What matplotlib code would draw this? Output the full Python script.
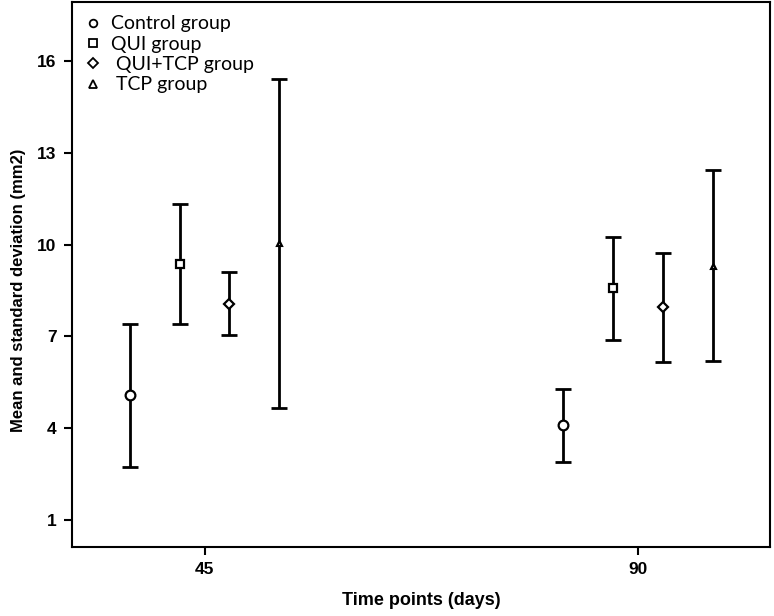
import matplotlib.pyplot as plt
import numpy as np

time_points = ['45', '90']
groups = ['Control group', 'QUI group', 'QUI+TCP group', 'TCP group']
legend_labels = ['Control group', 'QUI group', ' QUI+TCP group', ' TCP group']
markers = ['o', 's', 'D', '^']
marker_sizes = [7, 5.5, 5.5, 3.5]

# mean and standard deviation per group, for 45 and 90 days
means = {
    'Control group': [5.08, 4.09],
    'QUI group': [9.37, 8.57],
    'QUI+TCP group': [8.07, 7.95],
    'TCP group': [10.04, 9.30],
}
sds = {
    'Control group': [2.34, 1.20],
    'QUI group': [1.96, 1.69],
    'QUI+TCP group': [1.03, 1.78],
    'TCP group': [5.37, 3.12],
}

fig = plt.figure(figsize=(7.74, 6.16), dpi=100)
ax = fig.add_axes([0.093, 0.112, 0.902, 0.885])

x = np.arange(len(time_points))
offsets = [-0.173, -0.0576, 0.0576, 0.173]
handles = []
for g, off, m, ms, lab in zip(groups, offsets, markers, marker_sizes, legend_labels):
    ax.errorbar(x + off, means[g], yerr=sds[g], fmt='none', ecolor='black',
                elinewidth=2, capsize=6, capthick=2, zorder=2)
    ax.plot(x + off, means[g], linestyle='none', marker=m, markersize=ms,
            markerfacecolor='white', markeredgecolor='black', markeredgewidth=1.6, zorder=3)
    h, = ax.plot([], [], linestyle='none', marker=m, markersize=5.5 if m != '^' else 6,
                 markerfacecolor='white', markeredgecolor='black', markeredgewidth=1.3, label=lab)
    handles.append(h)

ax.set_xlim(-0.306, 1.306)
ax.set_ylim(0.118, 17.93)
ax.set_xticks(x)
ax.set_xticklabels(time_points)
ax.set_yticks([1, 4, 7, 10, 13, 16])

narrow = ['Liberation Sans', 'DejaVu Sans']
for lbl in ax.get_xticklabels() + ax.get_yticklabels():
    lbl.set_family(narrow)
    lbl.set_fontweight('bold')
    lbl.set_fontsize(12.5)
ax.tick_params(direction='out', length=6, width=1.5, pad=5)

ax.set_xlabel('Time points (days)', fontsize=13, fontweight='bold', family=narrow)
ax.set_ylabel('Mean and standard deviation (mm2)', fontsize=12, fontweight='bold', family=narrow)
ax.xaxis.set_label_coords(0.5, -0.083)
ax.yaxis.set_label_coords(-0.066, 0.47)

for s in ax.spines.values():
    s.set_linewidth(1.5)

ax.legend(handles=handles, loc='upper left', frameon=False,
          prop={'family': ['Lato', 'DejaVu Sans'], 'size': 14},
          handlelength=0.8, handletextpad=0.5, labelspacing=0.17,
          borderaxespad=0.3, bbox_to_anchor=(0.0, 1.0))

fig.savefig('out.png', dpi=100)
